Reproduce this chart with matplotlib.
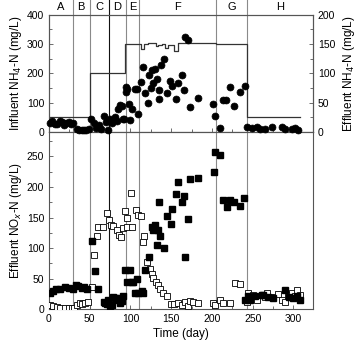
import matplotlib
matplotlib.use('Agg')
import matplotlib.pyplot as plt
from matplotlib.ticker import MultipleLocator

plt.rcParams['font.family'] = ['Liberation Sans', 'DejaVu Sans']

# phase boundaries (day) and labels
bounds = [29, 50, 74, 94, 111, 205, 243]
phases = ['A', 'B', 'C', 'D', 'E', 'F', 'G', 'H']

# influent NH4-N (step, mg/L)
infl_day = [0, 50, 93, 111, 113, 116, 121, 128, 131, 134, 139, 142, 146,
            152, 154, 158, 185, 205, 243, 308]
infl_val = [50, 200, 300, 300, 283, 300, 303, 303, 292, 296, 300, 287, 298,
            298, 277, 305, 302, 300, 50, 50]

# effluent NH4-N (circles, right axis)
nh4_day = [1, 4, 7, 10, 13, 16, 18, 21, 24, 27, 30,
           34, 37, 40, 43, 46, 49,
           52, 55, 58, 61, 64, 68, 70, 72,
           75, 77, 80, 81, 84, 85, 87, 89, 91, 92.5,
           94, 94, 95.5, 98.6, 100, 101.5, 105.6, 107.7, 109,
           113, 115.8, 118, 121, 122.8, 125, 126, 128, 130, 132,
           135, 135.5, 137.5, 141.6, 144.5, 148.6, 150.6, 155.5, 158.8, 163,
           165.7, 167, 170, 173, 182.5,
           201.7, 203.8, 210, 213, 217, 222, 227.5, 234.5, 240,
           243, 249, 255, 259, 265, 274, 286, 290, 298, 302, 306]
nh4_val = [15, 18, 14, 13, 19, 17, 12, 16, 17, 13, 15,
           5, 3, 3, 3, 3, 5,
           23, 15, 7, 12, 5, 27, 17, 3,
           23, 16, 20, 26, 18, 39, 46, 45, 22, 22,
           69, 77, 74, 47, 20, 40, 73, 73, 30,
           86, 111, 67, 50, 98, 75, 106, 83, 107, 91,
           72, 57, 115, 124, 67, 87, 78, 56, 83, 97,
           72, 162, 157, 42, 58,
           47, 27, 7, 54, 54, 76, 45, 69, 78,
           8, 6, 9, 5, 5, 9, 8, 5, 5, 6, 3]

# effluent NOx-N, filled squares
fill_day = [1.2, 5, 9, 14, 19.6, 25, 29, 33, 36, 40, 43, 47,
            52.4, 56.5, 60.5,
            67, 69, 71, 73, 75, 77, 79, 81, 83, 85, 87, 89, 91,
            93.3, 95.4, 99.4, 101.5, 103.5, 105.6, 107.7, 109.7, 113.8, 115.8, 117.9,
            122.8, 126.8, 128, 130, 132, 133.4, 135, 136.3, 141.5, 144.5,
            149.8, 150.6, 155.5, 158.8, 163.7, 166, 167, 170.3, 173, 183.3,
            202.6, 203.8, 210, 214, 218, 222, 227.5, 234.5, 239.8,
            241, 244, 247, 253, 261, 263, 269, 275, 290, 294, 300, 304, 308]
fill_val = [26, 30, 33, 33, 37, 35, 34, 40, 38, 35, 36, 34,
            111, 62, 34,
            12, 10, 8, 15, 5, 7, 20, 18, 15, 18, 10, 13, 21,
            64, 44, 64, 45, 45, 26, 50, 26, 30, 26, 65,
            85, 135, 130, 138, 105, 130, 175, 120, 100, 153,
            139, 164, 189, 208, 175, 185, 85, 148, 213, 214,
            225, 257, 252, 178, 168, 179, 176, 169, 182,
            15, 22, 15, 22, 23, 23, 20, 18, 32, 20, 18, 21, 15]

# effluent NOx-N, open squares
open_day = [1.2, 5, 9.4, 13.5, 19.6, 24, 28, 31, 34, 38, 41, 44, 48,
            52.4, 55.7, 58.5, 60.6, 66.7, 70.8, 73.6,
            75.7, 79, 83, 86, 88.4, 91,
            93.3, 95.4, 95.4, 100.7, 102, 106.4, 108.9, 113, 115.8, 117,
            120, 124, 126, 128, 131, 133.4, 136.3, 140, 144.5, 149.8,
            153.9, 158.8, 163, 167, 170.3, 173, 177, 183.3,
            201.7, 203.8, 210, 214, 222, 228, 234.5,
            242.7, 244.7, 246.8, 250.8, 255, 261, 265, 267, 271, 275.4,
            281.5, 285.7, 289.7, 293.8, 298, 302, 304, 308]
open_val = [7, 5, 4, 2, 2.6, 2, 2, 2, 7, 10, 9, 11, 12.5,
            37, 89, 120, 135, 135, 157, 146,
            138, 137, 130, 122, 119, 133,
            160, 149, 135, 191, 134, 162, 155, 153, 110, 120,
            78, 66, 57, 51, 45, 40, 33, 27, 22, 9,
            9, 10, 7, 12, 6, 13, 12, 11,
            10, 7, 15, 10, 10, 43, 41,
            12, 27, 18, 24, 15, 23, 20, 27, 20, 20,
            25, 16, 12.5, 23.5, 27, 21, 31, 23.5]

fig = plt.figure(figsize=(3.6, 3.44), dpi=100)
ax_top = fig.add_axes([49 / 360, 1 - 132 / 344, 264 / 360, 117.3 / 344])
ax_bot = fig.add_axes([49 / 360, 1 - 309.3 / 344, 264 / 360, 177.3 / 344])
ax_r = ax_top.twinx()

frame_col = '#555555'
for ax in (ax_top, ax_bot, ax_r):
    ax.set_xlim(0, 324)
    for s in ax.spines.values():
        s.set_color(frame_col)
        s.set_linewidth(0.8)
    ax.tick_params(direction='in', colors=frame_col, labelcolor='black',
                   labelsize=7.5, length=3, width=0.6)
    ax.tick_params(which='minor', direction='in', colors=frame_col,
                   length=2, width=0.6)
    ax.xaxis.set_major_locator(MultipleLocator(50))
    ax.xaxis.set_minor_locator(MultipleLocator(25))

# phase boundary lines
for i, b in enumerate(bounds):
    col = '#111111' if b == 74 else '#8a8a8a'
    for ax in (ax_top, ax_bot):
        ax.axvline(b, color=col, lw=0.8, zorder=0)
    ax_top.plot([b, b], [1, 1.14], color=col, lw=0.8, clip_on=False,
                transform=ax_top.get_xaxis_transform())

edges = [0] + bounds + [324]
for i, p in enumerate(phases):
    ax_top.text((edges[i] + edges[i + 1]) / 2, 1.066, p, ha='center',
                va='center', fontsize=8, transform=ax_top.get_xaxis_transform())

# top panel
ax_top.plot(infl_day, infl_val, drawstyle='steps-post', color='#333333', lw=0.9,
            zorder=2)
ax_top.set_ylim(0, 400)
ax_top.yaxis.set_major_locator(MultipleLocator(100))
ax_top.yaxis.set_minor_locator(MultipleLocator(50))
ax_top.tick_params(labelbottom=False)
ax_top.set_ylabel('Influent NH$_4$-N (mg/L)', fontsize=8.5, labelpad=2)

ax_r.plot(nh4_day, nh4_val, 'o', color='black', ms=5, mec='black', mew=0.5,
          clip_on=False, zorder=3)
ax_r.set_ylim(0, 200)
ax_r.yaxis.set_major_locator(MultipleLocator(50))
ax_r.yaxis.set_minor_locator(MultipleLocator(25))
ax_r.set_ylabel('Effluent NH$_4$-N (mg/L)', fontsize=8.5, labelpad=4)

# bottom panel
ax_bot.plot(open_day, open_val, 's', color='white', mec='black', mew=0.6,
            ms=4.5, zorder=3)
ax_bot.plot(fill_day, fill_val, 's', color='black', mec='black', ms=4.5,
            zorder=3)
ax_bot.set_ylim(0, 290)
ax_bot.yaxis.set_major_locator(MultipleLocator(50))
ax_bot.yaxis.set_minor_locator(MultipleLocator(25))
ax_bot.set_ylabel('Effluent NO$_x$-N (mg/L)', fontsize=8.5, labelpad=2)
ax_bot.set_xlabel('Time (day)', fontsize=8.5, labelpad=3)

fig.savefig('out.png', dpi=100)
